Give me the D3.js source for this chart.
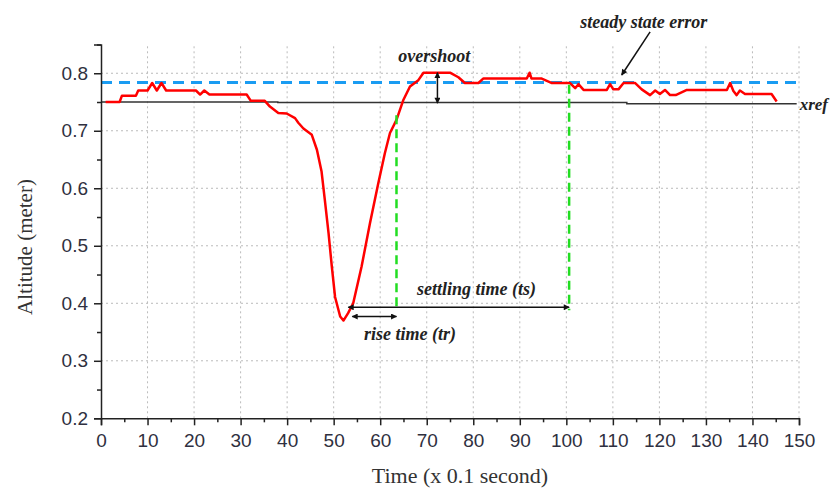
<!DOCTYPE html>
<html>
<head>
<meta charset="utf-8">
<script src="https://cdn.jsdelivr.net/npm/d3@7"></script>
<style>
  body { margin: 0; background: #fff; }
  svg { display: block; }
  .tick text { font-family: "Liberation Sans Narrow", "Liberation Sans", sans-serif; font-size: 19px; fill: #2f3040; }
  .note { font-family: "Liberation Serif", serif; font-weight: bold; font-style: italic; font-size: 18px; fill: #222; }
</style>
</head>
<body>
<div id="chart"></div>
<script>
// Measured altitude (red line), time in units of 0.1 s
var timeVals = [1, 4, 4.5, 7.5, 8, 10, 11, 12, 13, 14, 20.4, 21.3, 22.2, 23.3, 31.3, 32.2,
  35.2, 36.3, 38.1, 39.9, 41.7, 42.4, 43.5, 45.3, 46.4, 47.4, 48.1, 48.9, 49.6, 50.3,
  51.4, 52.1, 53.1, 54.2, 56.0, 57.8, 59.6, 61.0, 62.1, 63.5, 65.0, 66.4, 68.2, 69.3,
  75, 76.8, 78.2, 81.1, 82.2, 91.5, 92.1, 92.5, 94.6, 96.9, 100.8, 101.9, 102.6, 103.7,
  108.7, 109.4, 110.1, 111.2, 112.3, 114.8, 116.2, 118, 119.1, 120.1, 121.2, 122.3,
  123.5, 125.9, 134.5, 135.2, 135.9, 136.6, 137.3, 138.4, 144.1, 145.2];
var altitudeVals = [0.75, 0.75, 0.761, 0.761, 0.770, 0.770, 0.783, 0.770, 0.783, 0.770,
  0.770, 0.763, 0.770, 0.763, 0.763, 0.752, 0.752, 0.742, 0.731, 0.730, 0.722, 0.714,
  0.704, 0.693, 0.667, 0.629, 0.580, 0.522, 0.464, 0.411, 0.377, 0.370, 0.383, 0.400,
  0.464, 0.539, 0.609, 0.661, 0.696, 0.719, 0.754, 0.777, 0.788, 0.801, 0.801, 0.793,
  0.783, 0.783, 0.791, 0.791, 0.801, 0.791, 0.791, 0.783, 0.783, 0.774, 0.781, 0.771,
  0.771, 0.781, 0.772, 0.772, 0.783, 0.783, 0.772, 0.762, 0.770, 0.764, 0.771, 0.762,
  0.762, 0.771, 0.771, 0.783, 0.769, 0.762, 0.770, 0.764, 0.764, 0.751];

// reference altitude (black) and steady state level (blue dashed)
var xrefTime = [0, 38, 38, 113, 113, 149.5];
var xrefVals = [0.75, 0.75, 0.749, 0.749, 0.747, 0.747];
var steadyTime = [0, 149.5];
var steadyVals = [0.784, 0.784];

var xMajor = d3.range(0, 151, 10);
var xMinor = d3.range(5, 150, 10);
var yMajor = [0.2, 0.3, 0.4, 0.5, 0.6, 0.7, 0.8];
var yMinor = [0.25, 0.35, 0.45, 0.55, 0.65, 0.75, 0.85];

// annotation points (data units)
var riseStart = 54, riseEnd = 63.5, settleEnd = 100.6;
var riseLevel = 0.377, settleLevel = 0.393, guideBottom = 0.388;
var overshootT = 72.3, overshootTop = 0.801, overshootBottom = 0.748;

var width = 830, height = 488;
var svg = d3.select('#chart').append('svg')
  .attr('width', width)
  .attr('height', height);

var x = d3.scaleLinear().domain([0, 150]).range([101, 799]);
var y = d3.scaleLinear().domain([0.2, 0.85]).range([418.3, 44.5]);

var defs = svg.append('defs');
defs.append('marker')
  .attr('id', 'head')
  .attr('viewBox', '0 0 10 10')
  .attr('refX', 9).attr('refY', 5)
  .attr('markerWidth', 7).attr('markerHeight', 6)
  .attr('markerUnits', 'userSpaceOnUse')
  .attr('orient', 'auto-start-reverse')
  .append('path')
  .attr('d', 'M0,0 L10,5 L0,10 z')
  .attr('fill', '#111');

// grid
var grid = svg.append('g');
grid.selectAll('line.vg')
  .data(xMajor.slice(1))
  .enter().append('line')
  .attr('x1', function(d) { return x(d); })
  .attr('x2', function(d) { return x(d); })
  .attr('y1', y(0.2)).attr('y2', y(0.85))
  .attr('stroke', '#bbb').attr('stroke-width', 1).attr('stroke-dasharray', '2,3');
grid.selectAll('line.hg')
  .data(yMajor.slice(1))
  .enter().append('line')
  .attr('x1', x(0)).attr('x2', x(150))
  .attr('y1', function(d) { return y(d); })
  .attr('y2', function(d) { return y(d); })
  .attr('stroke', '#bbb').attr('stroke-width', 1).attr('stroke-dasharray', '2,3');

var line = d3.line()
  .x(function(d) { return x(d[0]); })
  .y(function(d) { return y(d[1]); });

svg.append('path')
  .datum(d3.zip(xrefTime, xrefVals))
  .attr('d', line)
  .attr('fill', 'none').attr('stroke', '#333').attr('stroke-width', 1.5);

svg.append('path')
  .datum(d3.zip(steadyTime, steadyVals))
  .attr('d', line)
  .attr('fill', 'none').attr('stroke', '#1a9cf2').attr('stroke-width', 3)
  .attr('stroke-dasharray', '11,7');

svg.append('path')
  .datum(d3.zip(timeVals, altitudeVals))
  .attr('d', line)
  .attr('fill', 'none').attr('stroke', '#ff0000').attr('stroke-width', 2.5)
  .attr('stroke-linejoin', 'round');

// green guides
svg.selectAll('line.guide')
  .data([[riseEnd, 0.727], [settleEnd, 0.780]])
  .enter().append('line')
  .attr('x1', function(d) { return x(d[0]); })
  .attr('x2', function(d) { return x(d[0]); })
  .attr('y1', function(d) { return y(d[1]); })
  .attr('y2', y(guideBottom))
  .attr('stroke', '#22dd22').attr('stroke-width', 2.5)
  .attr('stroke-dasharray', '9,5');

// arrows
function arrow(x1, y1, x2, y2, both) {
  var a = svg.append('line')
    .attr('x1', x1).attr('y1', y1).attr('x2', x2).attr('y2', y2)
    .attr('stroke', '#111').attr('stroke-width', 1.5)
    .attr('marker-end', 'url(#head)');
  if (both) a.attr('marker-start', 'url(#head)');
}
arrow(x(riseStart) - 4, y(settleLevel), x(settleEnd), y(settleLevel), true);
arrow(x(riseStart), y(riseLevel), x(riseEnd), y(riseLevel), true);
arrow(x(overshootT), y(overshootTop), x(overshootT), y(overshootBottom), true);
arrow(x(118), y(0.872), x(111.9), y(0.797), false);

// axes
svg.append('g')
  .attr('transform', 'translate(0,' + y(0.2) + ')')
  .call(d3.axisBottom(x).tickValues(xMajor).tickSize(7).tickPadding(8).tickFormat(d3.format('d')))
  .call(function(g) {
    g.select('.domain').attr('stroke', '#222').attr('stroke-width', 1.5);
    g.selectAll('.tick line').attr('stroke', '#222').attr('stroke-width', 1.5);
  });
svg.append('g')
  .attr('transform', 'translate(0,' + y(0.2) + ')')
  .call(d3.axisBottom(x).tickValues(xMinor).tickSize(4).tickFormat(''))
  .call(function(g) {
    g.select('.domain').remove();
    g.selectAll('.tick line').attr('stroke', '#222').attr('stroke-width', 1.5);
  });

svg.append('g')
  .attr('transform', 'translate(' + x(0) + ',0)')
  .call(d3.axisLeft(y).tickValues(yMajor).tickSize(7).tickPadding(6).tickFormat(d3.format('.1f')))
  .call(function(g) {
    g.select('.domain').attr('stroke', '#222').attr('stroke-width', 1.5);
    g.selectAll('.tick line').attr('stroke', '#222').attr('stroke-width', 1.5);
  });
svg.append('g')
  .attr('transform', 'translate(' + x(0) + ',0)')
  .call(d3.axisLeft(y).tickValues(yMinor).tickSize(4).tickFormat(''))
  .call(function(g) {
    g.select('.domain').remove();
    g.selectAll('.tick line').attr('stroke', '#222').attr('stroke-width', 1.5);
  });

// axis titles
svg.append('text')
  .attr('x', 460).attr('y', 483)
  .attr('text-anchor', 'middle')
  .style('font-family', '"Liberation Serif", serif')
  .style('font-size', '22px').style('fill', '#333')
  .text('Time (x 0.1 second)');
svg.append('text')
  .attr('transform', 'translate(32,247) rotate(-90)')
  .attr('text-anchor', 'middle')
  .style('font-family', '"Liberation Serif", serif')
  .style('font-size', '21px').style('fill', '#333')
  .text('Altitude (meter)');

// notes
svg.append('text').attr('class', 'note').attr('x', x(71.6)).attr('y', y(0.820))
  .attr('text-anchor', 'middle').text('overshoot');
svg.append('text').attr('class', 'note').attr('x', x(103)).attr('y', y(0.879))
  .text('steady state error');
svg.append('text').attr('class', 'note').attr('x', 828).attr('y', y(0.736))
  .attr('text-anchor', 'end').style('font-size', '17px')
  .text('xref');
svg.append('text').attr('class', 'note').attr('x', x(80.7)).attr('y', y(0.414))
  .attr('text-anchor', 'middle').text('settling time (ts)');
svg.append('text').attr('class', 'note').attr('x', x(66.4)).attr('y', y(0.336))
  .attr('text-anchor', 'middle').text('rise time (tr)');
</script>
</body>
</html>
